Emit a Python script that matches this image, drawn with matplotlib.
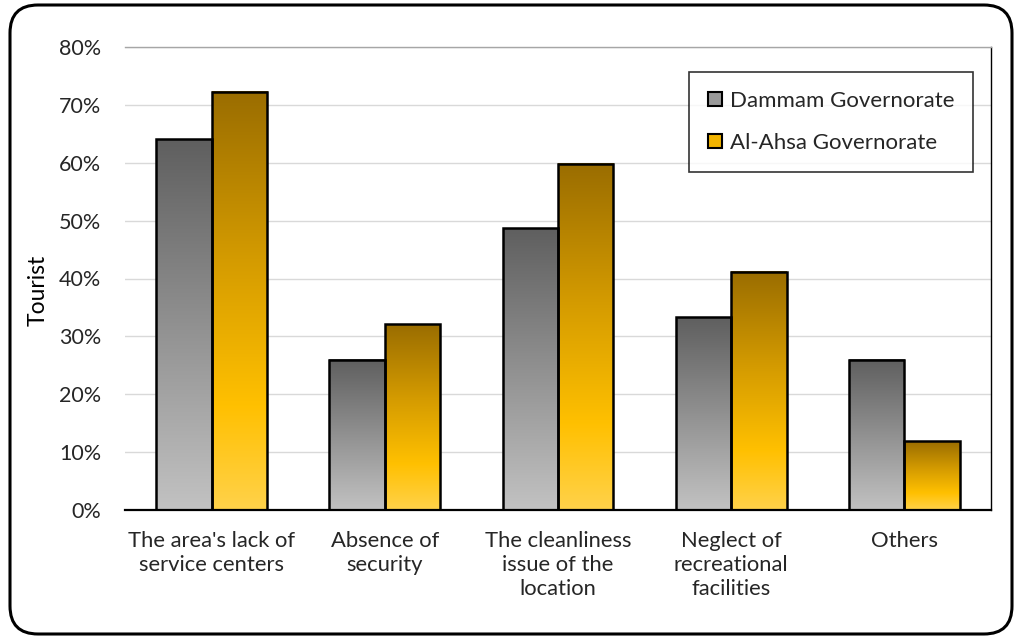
import numpy as np
import matplotlib
matplotlib.use("Agg")
import matplotlib.pyplot as plt
from matplotlib.colors import LinearSegmentedColormap
from matplotlib.patches import FancyBboxPatch, Patch
from matplotlib.ticker import FuncFormatter

categories = [
    "The area's lack of\nservice centers",
    "Absence of\nsecurity",
    "The cleanliness\nissue of the\nlocation",
    "Neglect of\nrecreational\nfacilities",
    "Others",
]
series_names = ["Dammam Governorate", "Al-Ahsa Governorate"]
dammam = [64.1, 26.0, 48.7, 33.3, 26.0]
al_ahsa = [72.3, 32.1, 59.8, 41.2, 11.9]
y_ticks = [0, 10, 20, 30, 40, 50, 60, 70, 80]

plt.rcParams["font.family"] = ["Lato", "DejaVu Sans"]

fig = plt.figure(figsize=(10.21, 6.39), dpi=100)
ax = fig.add_axes([125 / 1021, 1 - 510 / 639, (991 - 125) / 1021, (510 - 47) / 639])

# rounded frame around the whole chart
frame = FancyBboxPatch((0.10, 0.05), 10.02, 6.29,
                       boxstyle="round,pad=0,rounding_size=0.28",
                       transform=fig.dpi_scale_trans, fill=False,
                       edgecolor="black", linewidth=2.2, zorder=0)
fig.patches.append(frame)

gray_cmap = LinearSegmentedColormap.from_list(
    "gray_grad", [(0.0, "#c2c2c2"), (1.0, "#5f5f5f")])
gold_cmap = LinearSegmentedColormap.from_list(
    "gold_grad", [(0.0, "#ffd24a"), (0.25, "#ffc000"),
                  (0.6, "#d49b00"), (1.0, "#9a6d00")])

x = np.arange(len(categories))
width = 0.32
groups = [(dammam, -width / 2, gray_cmap, "#9a9a9a"),
          (al_ahsa, width / 2, gold_cmap, "#f2b400")]

# bars are outlined by ax.bar and filled with a vertical gradient image
grad = np.linspace(0, 1, 256).reshape(-1, 1)
for values, offset, cmap, _ in groups:
    bars = ax.bar(x + offset, values, width, facecolor="none",
                  edgecolor="black", linewidth=1.8, zorder=3)
    for b in bars:
        bx, by = b.get_x(), b.get_y()
        bw, bh = b.get_width(), b.get_height()
        ax.imshow(grad, cmap=cmap, origin="lower", aspect="auto",
                  extent=[bx, bx + bw, by, by + bh], zorder=2,
                  interpolation="bilinear")

ax.set_xlim(-0.5, len(categories) - 0.5)
ax.set_ylim(0, 80)
ax.set_yticks(y_ticks)
ax.yaxis.set_major_formatter(FuncFormatter(lambda v, _: f"{v:.0f}%"))
ax.grid(axis="y", color="#d9d9d9", linewidth=1.0, zorder=0)
ax.set_axisbelow(True)

ax.set_xticks(x)
ax.set_xticklabels(categories, fontsize=15.8, color="#262626",
                   linespacing=1.25, va="top")
ax.tick_params(axis="both", length=0, labelcolor="#262626")
ax.tick_params(axis="y", labelsize=15.5, pad=17)
ax.tick_params(axis="x", pad=15)

ax.spines["left"].set_visible(False)
ax.spines["bottom"].set_linewidth(1.6)
ax.spines["bottom"].set_color("black")
ax.spines["right"].set_linewidth(1.0)
ax.spines["right"].set_color("black")
ax.spines["top"].set_linewidth(1.0)
ax.spines["top"].set_color("#a6a6a6")

ax.set_ylabel("Tourist", fontsize=16.5, color="black")
ax.yaxis.set_label_coords((49 - 125) / 866, (510 - 290) / 463)

handles = [Patch(facecolor=c, edgecolor="black", linewidth=1.5)
           for (_, _, _, c) in groups]
leg = ax.legend(handles, series_names, loc="upper right",
                fontsize=16, frameon=True, fancybox=False,
                handlelength=0.62, handleheight=0.62, handletextpad=0.35,
                labelspacing=1.0, borderpad=0.85, borderaxespad=0.0,
                labelcolor="#262626")
leg.set_bbox_to_anchor(((973 - 125) / 866, 1 - 25 / 463), transform=ax.transAxes)
leg.get_frame().set_edgecolor("black")
leg.get_frame().set_linewidth(1.2)

fig.savefig("out.png", dpi=100)
